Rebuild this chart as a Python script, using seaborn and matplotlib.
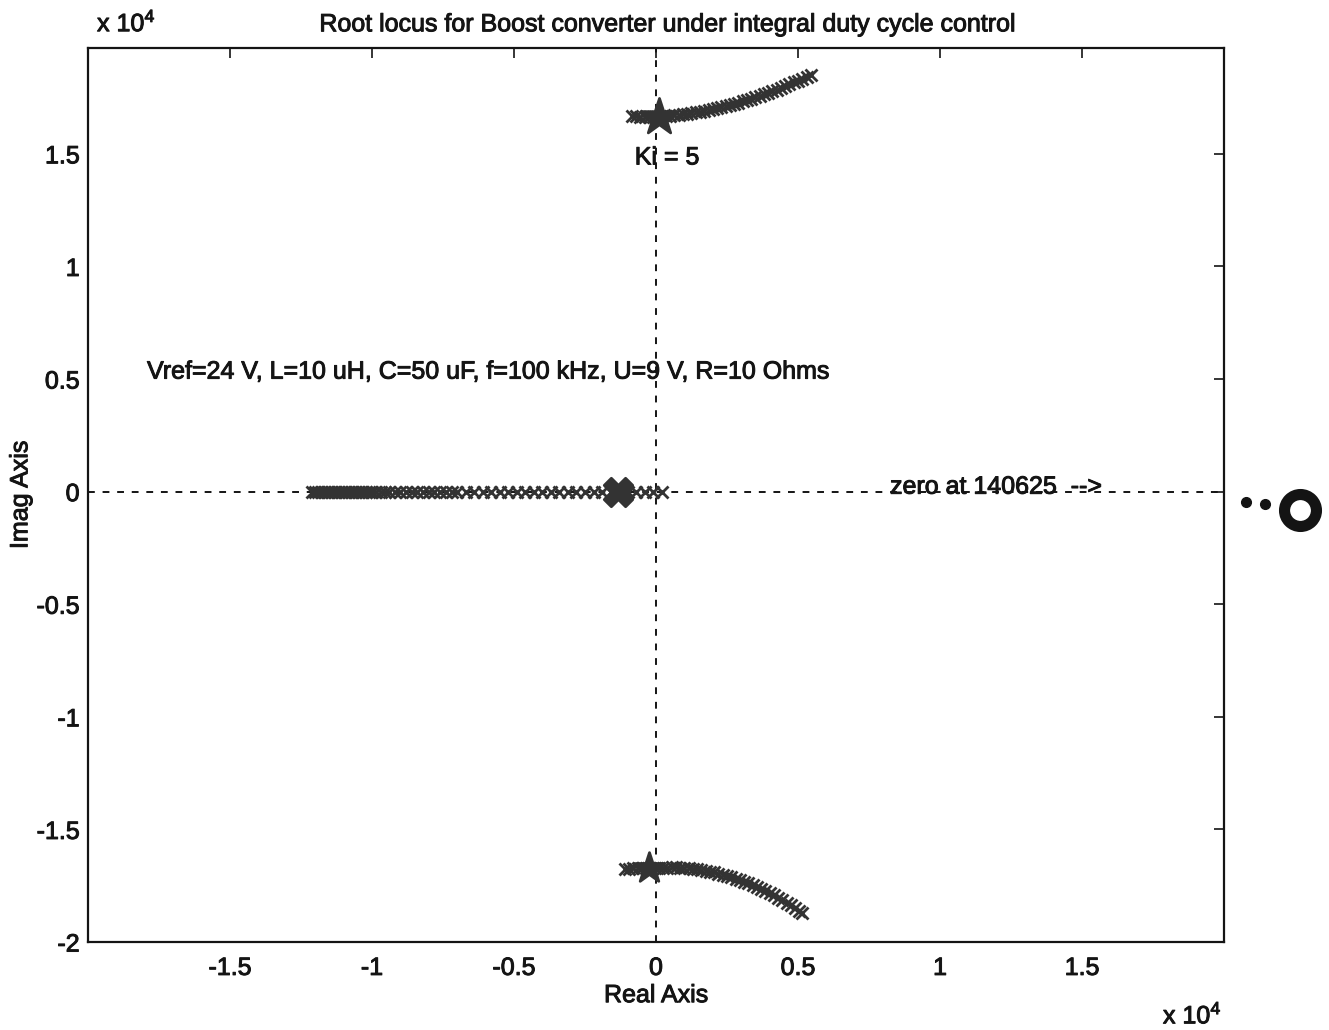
import matplotlib
matplotlib.use("Agg")
import matplotlib.pyplot as plt
import matplotlib.patheffects as pe
import seaborn as sns
import pandas as pd

# Root locus of the boost converter, coordinates in units of 10^4 rad/s
upper_re = [-0.085, -0.07, -0.055, -0.04, -0.025, -0.01, 0.005, 0.02, 0.035, 0.05,
            0.065, 0.08, 0.095, 0.11, 0.125, 0.14, 0.155, 0.17, 0.185, 0.20,
            0.215, 0.23, 0.245, 0.26, 0.275, 0.29, 0.305, 0.32, 0.335, 0.35,
            0.365, 0.38, 0.395, 0.41, 0.425, 0.44, 0.455, 0.47, 0.485, 0.50,
            0.515, 0.53, 0.545]
upper_im = [1.667, 1.666, 1.665, 1.665, 1.665, 1.665, 1.665, 1.667, 1.668, 1.670,
            1.672, 1.674, 1.676, 1.679, 1.682, 1.685, 1.688, 1.691, 1.695, 1.699,
            1.703, 1.708, 1.712, 1.717, 1.722, 1.727, 1.733, 1.739, 1.745, 1.751,
            1.757, 1.764, 1.771, 1.778, 1.785, 1.793, 1.800, 1.808, 1.817, 1.825,
            1.834, 1.843, 1.852]

lower_re = [-0.11, -0.095, -0.08, -0.065, -0.05, -0.035, -0.02, -0.005, 0.01, 0.025,
            0.04, 0.055, 0.07, 0.085, 0.10, 0.115, 0.13, 0.145, 0.16, 0.175,
            0.19, 0.205, 0.22, 0.235, 0.25, 0.265, 0.28, 0.295, 0.31, 0.325,
            0.34, 0.355, 0.37, 0.385, 0.40, 0.415, 0.43, 0.445, 0.46, 0.475,
            0.49, 0.505, 0.515]
lower_im = [-1.676, -1.674, -1.672, -1.670, -1.670, -1.670, -1.670, -1.670, -1.670, -1.670,
            -1.670, -1.669, -1.669, -1.670, -1.671, -1.673, -1.675, -1.677, -1.680, -1.683,
            -1.687, -1.691, -1.696, -1.701, -1.706, -1.712, -1.718, -1.725, -1.732, -1.739,
            -1.747, -1.755, -1.764, -1.773, -1.782, -1.792, -1.803, -1.813, -1.825, -1.836,
            -1.848, -1.861, -1.869]

real_re = [0.02, -0.01, -0.04, -0.07, -0.10, -0.13, -0.16, -0.19, -0.22, -0.25,
           -0.28, -0.31, -0.34, -0.37, -0.40, -0.43, -0.46, -0.49, -0.52, -0.55,
           -0.58, -0.61, -0.64, -0.67, -0.70, -0.72, -0.74, -0.76, -0.78, -0.80,
           -0.82, -0.84, -0.86, -0.88, -0.90, -0.92, -0.94, -0.955, -0.97, -0.985,
           -1.00, -1.01, -1.02, -1.03, -1.04, -1.05, -1.06, -1.07, -1.08, -1.09,
           -1.10, -1.11, -1.12, -1.13, -1.14, -1.15, -1.16, -1.17, -1.18, -1.19,
           -1.20, -1.21]
real_im = [0.0] * len(real_re)

# Closed-loop poles for Ki = 5
ki5_re = [0.01, -0.134, -0.025]
ki5_im = [1.662, 0.0, -1.671]
ki5_marker = ["*", "X", "*"]
ki5_size = [750, 420, 520]

x_ticks = [-1.5, -1.0, -0.5, 0.0, 0.5, 1.0, 1.5]
x_ticklabels = ["-1.5", "-1", "-0.5", "0", "0.5", "1", "1.5"]
y_ticks = [-2.0, -1.5, -1.0, -0.5, 0.0, 0.5, 1.0, 1.5]
y_ticklabels = ["-2", "-1.5", "-1", "-0.5", "0", "0.5", "1", "1.5"]

sns.set_theme(style="white")
plt.rcParams["font.family"] = ["Liberation Sans", "DejaVu Sans"]
plt.rcParams["mathtext.fontset"] = "custom"
plt.rcParams["mathtext.rm"] = "Liberation Sans"

INK = "#141414"
LOCUS = "#333333"
FS = 18
heavy = [pe.withStroke(linewidth=0.7, foreground=INK)]

fig = plt.figure(figsize=(13.29, 10.30), dpi=100)
ax = fig.add_axes([0.0662, 0.0854, 0.8548, 0.868])

ax.set_xlim(-2, 2)
ax.set_ylim(-2, 1.97)

# axis cross lines
ax.axvline(0, color=INK, lw=1.4, ls=(0, (3.5, 4)), zorder=1)
ax.axhline(0, color=INK, lw=1.4, ls=(0, (3.5, 4)), zorder=1)

branches = pd.concat([
    pd.DataFrame({"re": upper_re, "im": upper_im, "branch": "upper"}),
    pd.DataFrame({"re": lower_re, "im": lower_im, "branch": "lower"}),
    pd.DataFrame({"re": real_re, "im": real_im, "branch": "real"}),
], ignore_index=True)

sns.scatterplot(data=branches, x="re", y="im", marker="x", s=75, linewidth=2.0,
                color=LOCUS, ax=ax, legend=False, zorder=3)

for re, im, mk, sz in zip(ki5_re, ki5_im, ki5_marker, ki5_size):
    sns.scatterplot(x=[re], y=[im], marker=mk, s=sz, color=LOCUS,
                    edgecolor=LOCUS, linewidth=2.0, ax=ax, legend=False, zorder=4)

ax.set_xticks(x_ticks)
ax.set_xticklabels(x_ticklabels)
ax.set_yticks(y_ticks)
ax.set_yticklabels(y_ticklabels)
ax.tick_params(direction="in", length=7, width=1.2, colors=INK, labelsize=FS,
               top=True, right=True)
ax.tick_params(axis="y", pad=6)
ax.tick_params(axis="x", pad=10)
for lab in ax.get_xticklabels() + ax.get_yticklabels():
    lab.set_path_effects(heavy)

for sp in ax.spines.values():
    sp.set_color(INK)
    sp.set_linewidth(1.6)

ax.set_xlabel("Real Axis", fontsize=FS, color=INK, path_effects=heavy)
ax.set_ylabel("Imag Axis", fontsize=FS, color=INK, path_effects=heavy)
ax.xaxis.set_label_coords(0.5, -0.046)
ax.yaxis.set_label_coords(-0.049, 0.5)
ax.set_title("Root locus for Boost converter under integral duty cycle control",
             fontsize=FS, color=INK, pad=12, x=0.51, path_effects=heavy)

# exponent labels
ax.text(0.008, 1.013, r"x $\mathregular{10^4}$", transform=ax.transAxes,
        fontsize=FS, color=INK, ha="left", va="bottom", path_effects=heavy)
ax.text(0.998, -0.082, r"x $\mathregular{10^4}$", transform=ax.transAxes,
        fontsize=FS, color=INK, ha="right", va="center", path_effects=heavy)

ax.text(0.039, 1.484, "Ki = 5", fontsize=FS, color=INK, ha="center", va="center",
        path_effects=heavy)
ax.text(-1.792, 0.533, "Vref=24 V, L=10 uH, C=50 uF, f=100 kHz, U=9 V, R=10 Ohms",
        fontsize=FS, color=INK, ha="left", va="center", path_effects=heavy)
ax.text(0.824, 0.022, "zero at 140625  -->", fontsize=FS, color=INK,
        ha="left", va="center", path_effects=heavy)

# off-chart zero indicator
ax.plot([1.067], [0.483], marker="o", ms=23, mfc="white", mec=INK, mew=8,
        transform=ax.transAxes, clip_on=False)
ax.plot([1.019, 1.036], [0.492, 0.490], ls="none", marker="o", ms=7, color=INK,
        transform=ax.transAxes, clip_on=False)

fig.savefig("out.png", dpi=100, facecolor="white")
